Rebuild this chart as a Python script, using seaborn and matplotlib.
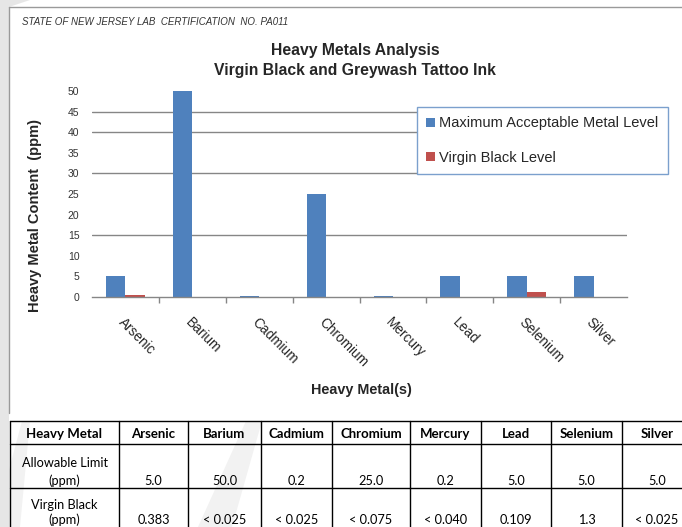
import numpy as np
import pandas as pd
import matplotlib.pyplot as plt
import seaborn as sns
from matplotlib.patches import Polygon

# chart data
metals = ["Arsenic", "Barium", "Cadmium", "Chromium", "Mercury", "Lead", "Selenium", "Silver"]
max_level = [5.0, 50.0, 0.2, 25.0, 0.2, 5.0, 5.0, 5.0]
virgin_black = [0.383, 0.0, 0.0, 0.0, 0.0, 0.109, 1.3, 0.0]
series_names = ["Maximum Acceptable Metal Level", "Virgin Black Level"]
y_ticks = list(range(0, 55, 5))
grid_levels = [15, 30, 40, 45]

# table text
table_header = ["Heavy Metal"] + metals
limit_text = ["5.0", "50.0", "0.2", "25.0", "0.2", "5.0", "5.0", "5.0"]
virgin_text = ["0.383", "< 0.025", "< 0.025", "< 0.075", "< 0.040", "0.109", "1.3", "< 0.025"]

sns.set_theme(style="white")
plt.rcParams["font.family"] = ["Liberation Sans", "DejaVu Sans"]

df = pd.DataFrame({
    "metal": metals * 2,
    "level": max_level + virgin_black,
    "series": [series_names[0]] * len(metals) + [series_names[1]] * len(metals),
})

W, H = 682, 527
fig = plt.figure(figsize=(W / 100, H / 100), dpi=100)
fig.patch.set_facecolor("white")

# background layer in pixel units (frame, watermark, table)
bg = fig.add_axes([0, 0, 1, 1], zorder=-5)
bg.set_xlim(0, W)
bg.set_ylim(H, 0)
bg.axis("off")
bg.add_patch(Polygon([(0, 0), (9, 0), (9, H), (0, H)], color="#e6e6e6", lw=0))
bg.add_patch(Polygon([(0, 0), (30, 0), (9, 7), (9, 25)], color="#e6e6e6", lw=0))
bg.add_patch(Polygon([(198, H), (232, H), (262, 421), (246, 421)], color="#f2f2f2", lw=0))
bg.add_patch(Polygon([(9, 470), (9, H), (20, H), (30, 421), (22, 421)], color="#f2f2f2", lw=0))
bg.plot([9, 9], [7, 413], color="#9a9a9a", lw=1)
bg.plot([9, W], [7, 7], color="#9a9a9a", lw=1)

# table
col_edges = [10, 119, 188, 261, 332, 410, 481, 551, 622, 692]
row_edges = [421, 444, 488, 532]
for y in row_edges:
    bg.plot([col_edges[0], col_edges[-1]], [y, y], color="black", lw=1)
for x in col_edges:
    bg.plot([x, x], [row_edges[0], row_edges[-1]], color="black", lw=1)
centers = [(a + b) / 2 for a, b in zip(col_edges[:-1], col_edges[1:])]
tfont = dict(family=["Lato", "DejaVu Sans"], fontsize=9.2, ha="center", va="center", color="black")
for cx, t in zip(centers, table_header):
    bg.text(cx, 434, t, weight="bold", **dict(tfont, fontsize=9.5))
bg.text(centers[0], 463, "Allowable Limit", **tfont)
bg.text(centers[0], 481, "(ppm)", **tfont)
bg.text(centers[0], 505, "Virgin Black", **tfont)
bg.text(centers[0], 520, "(ppm)", **tfont)
for cx, a, b in zip(centers[1:], limit_text, virgin_text):
    bg.text(cx, 481, a, **tfont)
    bg.text(cx, 520, b, **tfont)

# bar chart
ax = fig.add_axes([92 / W, 1 - 297 / H, 535 / W, 206 / H])
sns.barplot(data=df, x="metal", y="level", hue="series", hue_order=series_names,
            palette=["#4F81BD", "#C0504D"], saturation=1, width=0.58,
            errorbar=None, linewidth=0, ax=ax)
for g in grid_levels:
    ax.axhline(g, color="#868686", lw=1, zorder=0.5)
ax.set_ylim(0, 50)
ax.set_yticks(y_ticks)
ax.set_xlabel("")
ax.set_ylabel("")
for s in ["top", "right", "left"]:
    ax.spines[s].set_visible(False)
ax.spines["bottom"].set_color("#868686")
ax.spines["bottom"].set_linewidth(1)
ax.tick_params(axis="y", length=0, pad=9, labelsize=7.5, labelcolor="#333333")
ax.set_xticks(np.arange(len(metals)))
ax.set_xticklabels(metals, rotation=-45, ha="left", va="top", rotation_mode="anchor", fontsize=9.8)
ax.tick_params(axis="x", which="major", length=0, pad=13)
ax.set_xticks(np.arange(len(metals) - 1) + 0.5, minor=True)
ax.tick_params(axis="x", which="minor", length=4, color="#868686", width=1, direction="out", bottom=True)

handles, labels = ax.get_legend_handles_labels()
leg = ax.legend(handles, labels, loc="upper left", bbox_to_anchor=(417 / W, 1 - 107 / H),
                bbox_transform=fig.transFigure, fontsize=10.5, frameon=True, fancybox=False,
                framealpha=1, handlelength=0.55, handleheight=0.55, handletextpad=0.3,
                labelspacing=1.4, borderpad=0.65, borderaxespad=0)
leg.get_frame().set_edgecolor("#7BA0CD")
leg.get_frame().set_linewidth(1)

# texts
fig.text(22 / W, 1 - 22 / H, "STATE OF NEW JERSEY LAB  CERTIFICATION  NO. PA011",
         style="italic", fontsize=7, color="#333333", va="center")
fig.text(355 / W, 1 - 50 / H, "Heavy Metals Analysis", ha="center", va="center",
         fontsize=11.3, weight="bold")
fig.text(355 / W, 1 - 70 / H, "Virgin Black and Greywash Tattoo Ink", ha="center", va="center",
         fontsize=11.3, weight="bold")
fig.text(35 / W, 1 - 215 / H, "Heavy Metal Content  (ppm)", rotation=90, ha="center", va="center",
         fontsize=10.5, weight="bold")
fig.text(361 / W, 1 - 390 / H, "Heavy Metal(s)", ha="center", va="center", fontsize=10.4, weight="bold")

fig.savefig("out.png", dpi=100)
